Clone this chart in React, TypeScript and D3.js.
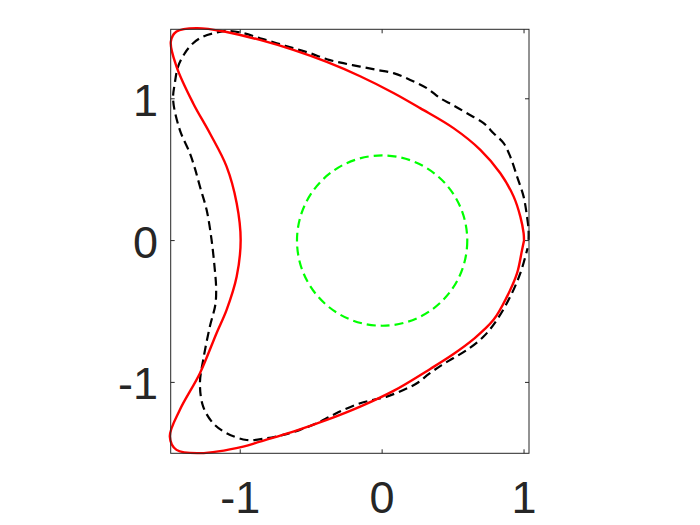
import React from "react";
import * as d3 from "d3";

const redX = [1.0, 0.997, 0.974, 0.927, 0.833, 0.692, 0.503, 0.268, 0.08, -0.155, -0.39, -0.626, -0.861, -1.096, -1.308, -1.449, -1.489, -1.449, -1.332, -1.214, -1.096, -1.025, -0.997, -1.025, -1.096, -1.167, -1.284, -1.426, -1.496, -1.449, -1.284, -0.979, -0.861, -0.626, -0.39, -0.155, 0.08, 0.339, 0.503, 0.644, 0.785, 0.88, 0.951, 0.986, 1.0];
const redY = [0.0, 0.052, 0.169, 0.31, 0.475, 0.64, 0.793, 0.934, 1.041, 1.159, 1.26, 1.345, 1.415, 1.471, 1.498, 1.474, 1.403, 1.227, 0.969, 0.757, 0.522, 0.264, 0.005, -0.254, -0.489, -0.653, -0.935, -1.194, -1.382, -1.476, -1.499, -1.453, -1.417, -1.347, -1.265, -1.171, -1.06, -0.905, -0.8, -0.695, -0.559, -0.395, -0.23, -0.066, 0.0];

const blackX = [1.032, 1.032, 1.021, 0.997, 0.951, 0.903, 0.856, 0.785, 0.715, 0.598, 0.5, 0.409, 0.315, 0.198, 0.08, -0.037, -0.155, -0.273, -0.39, -0.508, -0.626, -0.743, -0.861, -0.979, -1.096, -1.167, -1.261, -1.332, -1.39, -1.438, -1.461, -1.473, -1.426, -1.355, -1.32, -1.284, -1.237, -1.202, -1.179, -1.17, -1.175, -1.214, -1.261, -1.284, -1.261, -1.191, -1.096, -0.955, -0.814, -0.697, -0.579, -0.461, -0.367, -0.273, -0.155, -0.061, 0.033, 0.15, 0.245, 0.33, 0.42, 0.5, 0.598, 0.715, 0.809, 0.903, 0.974, 1.025];
const blackY = [0.005, 0.075, 0.169, 0.31, 0.451, 0.592, 0.687, 0.757, 0.828, 0.898, 0.955, 1.004, 1.075, 1.133, 1.181, 1.204, 1.227, 1.251, 1.279, 1.322, 1.357, 1.392, 1.427, 1.463, 1.479, 1.467, 1.439, 1.392, 1.322, 1.227, 1.11, 0.992, 0.781, 0.616, 0.511, 0.381, 0.217, 0.005, -0.207, -0.33, -0.45, -0.606, -0.841, -1.006, -1.171, -1.288, -1.358, -1.406, -1.394, -1.37, -1.335, -1.288, -1.241, -1.194, -1.147, -1.123, -1.1, -1.053, -1.006, -0.94, -0.878, -0.83, -0.771, -0.677, -0.559, -0.395, -0.23, -0.054];

const circleCenter = [0, 0];
const circleRadius = [0.6];

const xTicks = [-1, 0, 1];
const yTicks = [-1, 0, 1];

const L = 170.7, R = 529, T = 29.3, B = 453.3;

export default function App() {
  const x = d3.scaleLinear().domain([-1.49, 1.035]).range([L, R]);
  const y = d3.scaleLinear().domain([-1.5, 1.49]).range([B, T]);
  const line = d3
    .line<[number, number]>()
    .x((d) => x(d[0]))
    .y((d) => y(d[1]))
    .curve(d3.curveCatmullRom.alpha(0.5));
  const redPts: [number, number][] = redX.map((v, i) => [v, redY[i]]);
  const blackPts: [number, number][] = blackX.map((v, i) => [v, blackY[i]]);
  const axisColor = "#262626";
  const tickLen = 4;
  const font = "'Liberation Sans', Arial, Helvetica, sans-serif";
  const fs = 45;
  return (
    <svg
      width={700}
      height={525}
      style={{ position: "absolute", left: 0, top: 0, background: "#fff" }}
    >
      <rect x={0} y={0} width={700} height={525} fill="#fff" />
      <rect x={L} y={T} width={R - L} height={B - T} fill="#fff" />
      {circleRadius.map((r, i) => (
        <circle
          key={i}
          cx={x(circleCenter[0])}
          cy={y(circleCenter[1])}
          r={x(r) - x(0)}
          fill="none"
          stroke="#00ff00"
          strokeWidth={2.2}
          strokeDasharray="9,5"
        />
      ))}
      <path
        d={line(blackPts) || ""}
        fill="none"
        stroke="#000"
        strokeWidth={2.2}
        strokeDasharray="9,5"
      />
      <path d={line(redPts) || ""} fill="none" stroke="#ff0000" strokeWidth={2.4} />
      <rect
        x={L}
        y={T}
        width={R - L}
        height={B - T}
        fill="none"
        stroke={axisColor}
        strokeWidth={1}
      />
      {xTicks.map((t) => (
        <g key={"x" + t}>
          <line x1={x(t)} x2={x(t)} y1={B} y2={B - tickLen} stroke={axisColor} />
          <line x1={x(t)} x2={x(t)} y1={T} y2={T + tickLen} stroke={axisColor} />
          <text
            x={x(t)}
            y={513}
            textAnchor="middle"
            fontFamily={font}
            fontSize={fs}
            fill={axisColor}
          >
            {t < 0 ? "-" + Math.abs(t) : String(t)}
          </text>
        </g>
      ))}
      {yTicks.map((t) => (
        <g key={"y" + t}>
          <line x1={L} x2={L + tickLen} y1={y(t)} y2={y(t)} stroke={axisColor} />
          <line x1={R} x2={R - tickLen} y1={y(t)} y2={y(t)} stroke={axisColor} />
          <text
            x={158}
            y={y(t) + 17}
            textAnchor="end"
            fontFamily={font}
            fontSize={fs}
            fill={axisColor}
          >
            {t < 0 ? "-" + Math.abs(t) : String(t)}
          </text>
        </g>
      ))}
    </svg>
  );
}
